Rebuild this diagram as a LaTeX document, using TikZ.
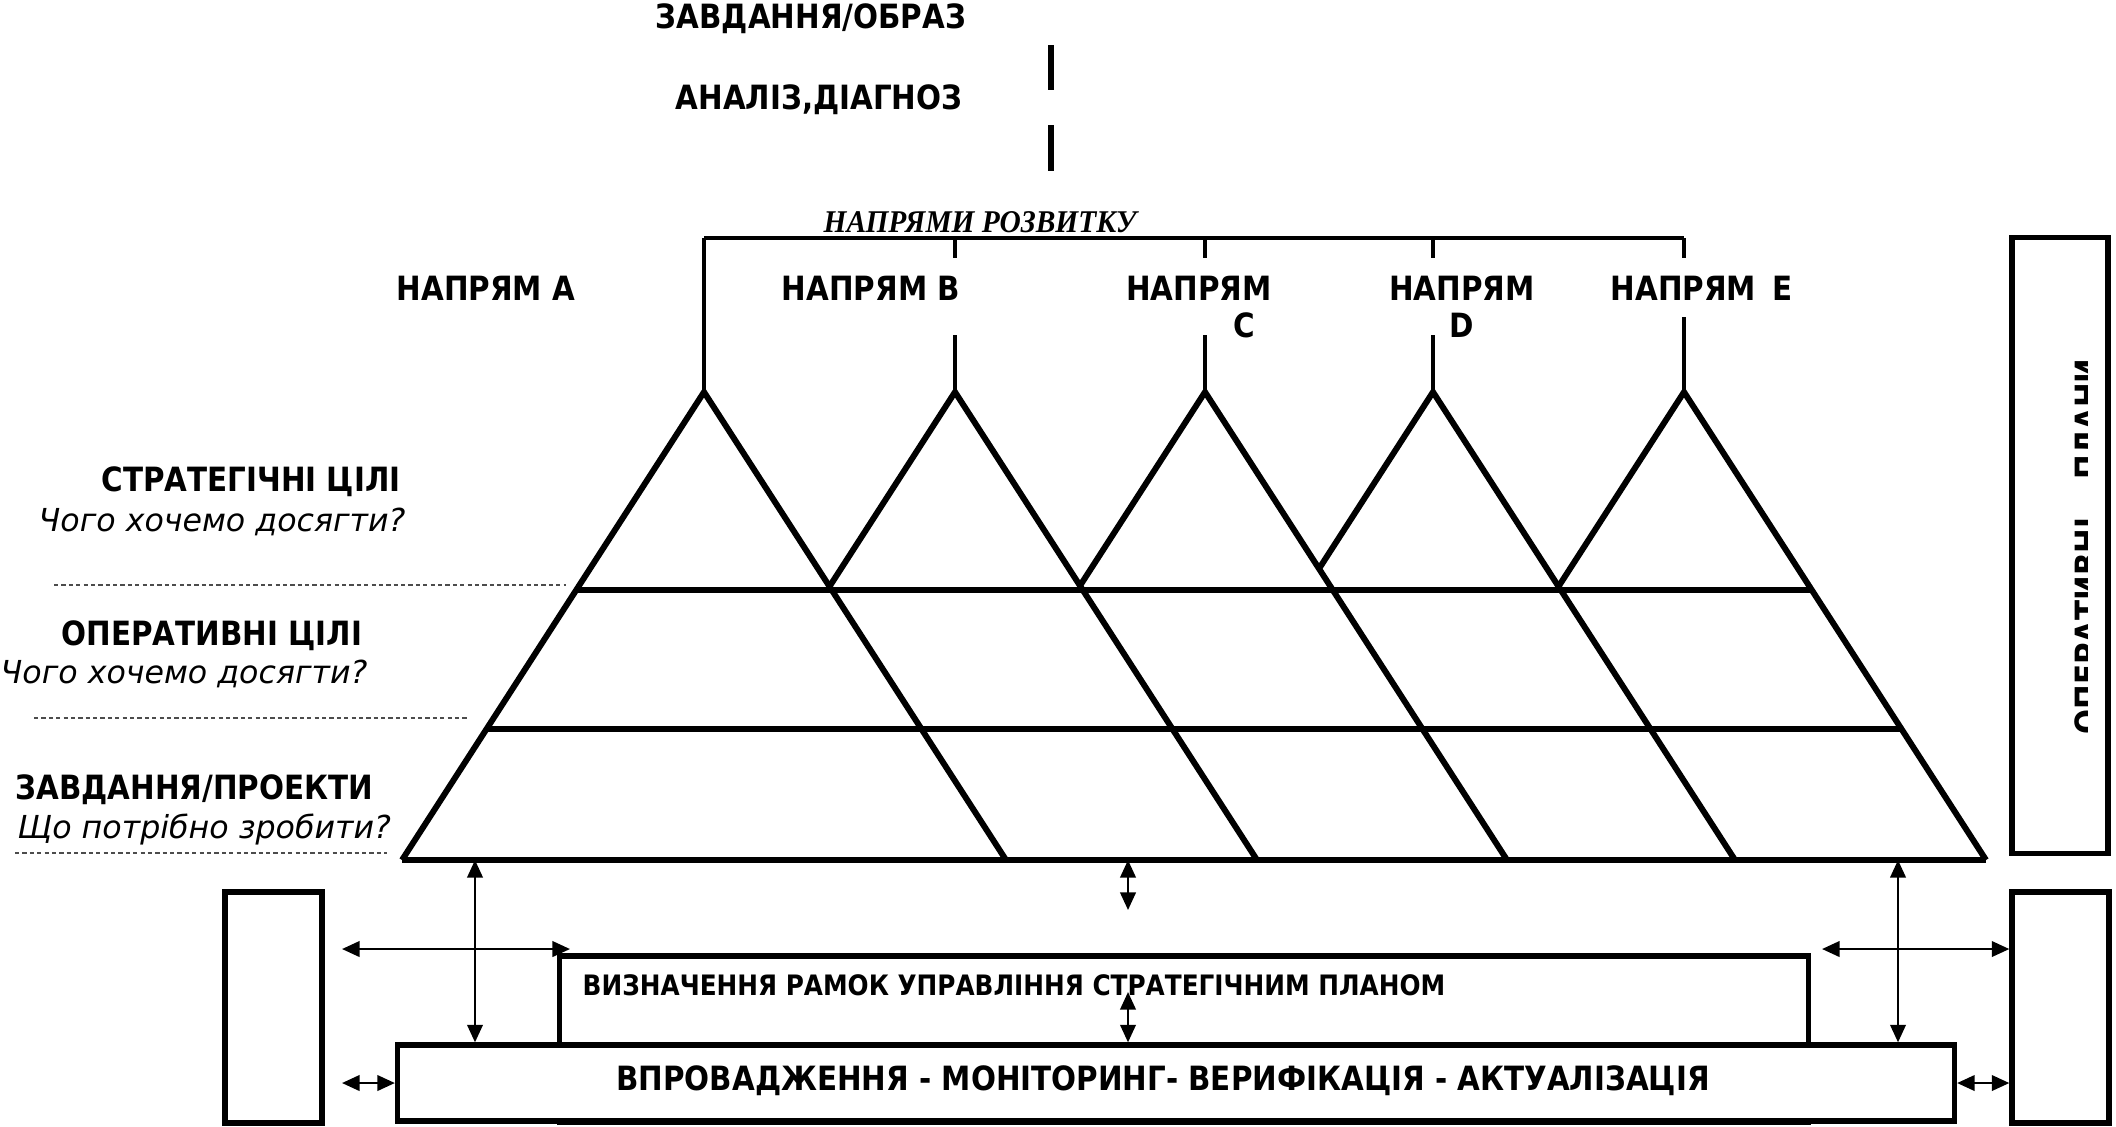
\documentclass[tikz,border=0pt]{standalone}
\usepackage{fontspec}
\setmainfont{DejaVu Sans}
\newfontfamily\hdfont{DejaVu Sans}[FakeStretch=0.88]
\newfontfamily\serfont{Liberation Serif}[FakeStretch=0.93]
\usetikzlibrary{arrows.meta}

\tikzset{
  heading/.style={font=\hdfont\bfseries\fontsize{9.5}{11}\selectfont, inner sep=0pt},
  caption/.style={font=\hdfont\bfseries\fontsize{8}{10}\selectfont, inner sep=0pt},
  question/.style={font=\itshape\fontsize{9}{11}\selectfont, inner sep=0pt},
  panel/.style={draw, line width=1.5pt, fill=white, inner sep=0pt},
  link/.style={line width=0.7pt, {Triangle[length=5pt,width=4.4pt]}-{Triangle[length=5pt,width=4.4pt]}}
}

\begin{document}
\begin{tikzpicture}[x=0.01cm, y=-0.01cm]
    \tikzstyle{edge}=[line width=1.7pt]
    \tikzstyle{stem}=[line width=1pt]
    \tikzstyle{guide}=[line width=0.4pt, dash pattern=on 1.2pt off 0.9pt, black!70]
    \useasboundingbox (0,0) rectangle (2116,1126);

    % top
    \node[heading, anchor=base] (task) at (811,28) {ЗАВДАННЯ/ОБРАЗ};
    \node[heading, anchor=base] (analysis) at (819,109) {АНАЛІЗ,ДІАГНОЗ};
    \draw[edge] (1051,45) -- (1051,90);
    \draw[edge] (1051,125) -- (1051,171);
    \node[font=\serfont\bfseries\itshape\fontsize{9}{11}\selectfont, inner sep=0pt, anchor=base] (trends) at (980,232) {НАПРЯМИ РОЗВИТКУ};

    % bracket
    \draw[line width=1.4pt] (704,238) -- (1684,238);
    \draw[stem] (704,238) -- (704,392);
    \draw[stem] (955,238) -- (955,258) (955,335) -- (955,392);
    \draw[stem] (1205,238) -- (1205,258) (1205,335) -- (1205,392);
    \draw[stem] (1433,238) -- (1433,258) (1433,335) -- (1433,392);
    \draw[stem] (1684,238) -- (1684,258) (1684,317) -- (1684,392);

    \node[heading, anchor=base] (dirA) at (486,300) {НАПРЯМ А};
    \node[heading, anchor=base] (dirB) at (871,300) {НАПРЯМ В};
    \node[heading, anchor=base] (dirC) at (1199,300) {НАПРЯМ};
    \node[heading, anchor=base] (dirCl) at (1244,337) {C};
    \node[heading, anchor=base] (dirD) at (1462,300) {НАПРЯМ};
    \node[heading, anchor=base] (dirDl) at (1462,337) {D};
    \node[heading, anchor=base west] (dirE) at (1610,300) {НАПРЯМ\hspace{1.6mm}E};

    % triangles
    \draw[edge] (402,860) -- (704,392) -- (1006,860);
    \draw[edge] (829.5,586.5) -- (955,392) -- (1257,860);
    \draw[edge] (1080,585.7) -- (1205,392) -- (1507,860);
    \draw[edge] (1319,568.7) -- (1433,392) -- (1735,860);
    \draw[edge] (1558.5,586.5) -- (1684,392) -- (1986,860);
    \draw[edge] (576.2,590) -- (1811.8,590);
    \draw[edge] (486.5,729) -- (1901.5,729);
    \draw[edge] (402,860) -- (1986,860);

    % levels
    \node[heading, anchor=base west] (goals) at (101,491) {СТРАТЕГІЧНІ ЦІЛІ};
    \node[question, anchor=base west] (goalsq) at (38,531) {Чого хочемо досягти?};
    \draw[guide] (54,585) -- (566,585);
    \node[heading, anchor=base west] (ops) at (61,645) {ОПЕРАТИВНІ ЦІЛІ};
    \node[question, anchor=base west] (opsq) at (0,683) {Чого хочемо досягти?};
    \draw[guide] (34,718) -- (467,718);
    \node[heading, anchor=base west] (tasks) at (15,799) {ЗАВДАННЯ/ПРОЕКТИ};
    \node[question, anchor=base west] (tasksq) at (17,838) {Що потрібно зробити?};
    \draw[guide] (15,853) -- (387,853);

    % boxes
    \node[panel, minimum width=0.97cm, minimum height=2.31cm] (lbox) at (273.5,1007.5) {};
    \node[panel, minimum width=0.97cm, minimum height=2.31cm] (rbox) at (2060.5,1007.5) {};
    \node[panel, minimum width=0.96cm, minimum height=6.15cm] (plans) at (2060,545.5) {};
    \node[panel, minimum width=12.48cm, minimum height=1.66cm] (frame) at (1184,1039) {};
    \node[caption, anchor=base west] (frametext) at (582,995) {ВИЗНАЧЕННЯ РАМОК УПРАВЛІННЯ СТРАТЕГІЧНИМ ПЛАНОМ};
    \node[panel, minimum width=15.56cm, minimum height=0.76cm] (impl) at (1176,1083) {};
    \node[heading, anchor=base] (impltext) at (1163,1090) {ВПРОВАДЖЕННЯ - МОНІТОРИНГ- ВЕРИФІКАЦІЯ - АКТУАЛІЗАЦІЯ};

    % arrows
    \coordinate (upL) at (475,860);
    \draw[link] (upL) -- (upL |- impl.north);
    \coordinate (upM) at (1128,860);
    \coordinate (midM) at (1128,910);
    \draw[link] (upM) -- (midM);
    \coordinate (lowM) at (1128,992);
    \draw[link] (lowM) -- (lowM |- impl.north);
    \coordinate (upR) at (1898,860);
    \draw[link] (upR) -- (upR |- impl.north);
    \coordinate (inL) at (342,949);
    \coordinate (inL2) at (570,949);
    \draw[link] (inL) -- (inL2);
    \coordinate (outL) at (342,1083);
    \draw[link] (outL) -- (impl.west);
    \coordinate (inR) at (1822,949);
    \draw[link] (inR) -- (inR -| rbox.west);
    \draw[link] (impl.east) -- (impl.east -| rbox.west);

    % plans (cut text)
    \begin{scope}
        \clip (2020,300) rectangle (2087,800);
        \node[heading, rotate=90, anchor=base west] (planstext) at (2099,735) {ОПЕРАТИВНІ\hspace{3.8mm}ПЛАНИ};
    \end{scope}
\end{tikzpicture}
\end{document}
